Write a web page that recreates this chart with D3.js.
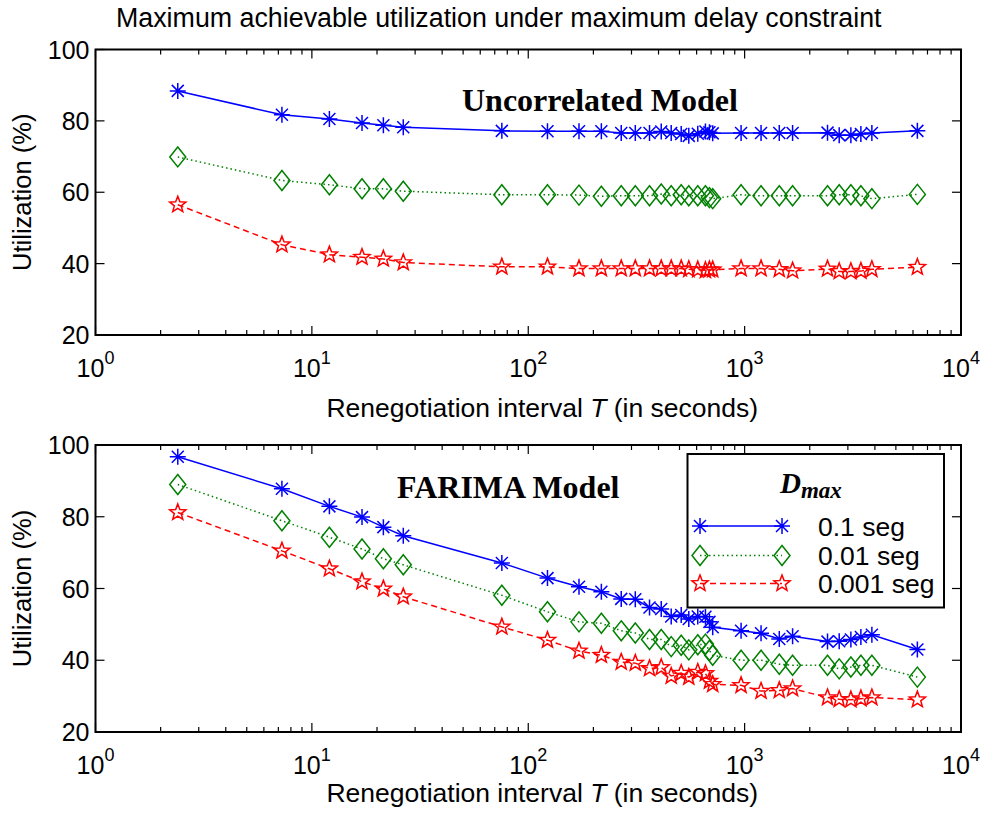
<!DOCTYPE html>
<html>
<head>
<meta charset="utf-8">
<script src="https://cdn.jsdelivr.net/npm/d3@7"></script>
<style>
  html, body { margin: 0; padding: 0; background: #fff; }
  svg { display: block; }
</style>
</head>
<body>
<script>
// ---------------- data ----------------
const T = [2.4, 7.27, 12.05, 17.05, 21.4, 26.45, 75.5, 122.7, 171.6, 217.7, 269, 312.4, 363.5, 411.7, 457.8,
           509.2, 552, 607.4, 659, 687.7, 712, 963, 1191, 1446, 1666, 2416, 2736, 3098, 3446, 3873, 6286];

const uncorr_01   = [88.4, 81.7, 80.5, 79.4, 78.8, 78.2, 77.2, 77.1, 77.1, 77.1, 76.6, 76.6, 76.6, 77.0, 76.6,
                     76.3, 75.8, 76.4, 77.0, 76.8, 76.5, 76.6, 76.6, 76.6, 76.6, 76.7, 76.0, 76.0, 76.3, 76.6, 77.2];
const uncorr_001  = [69.9, 63.3, 62.1, 61.0, 61.0, 60.3, 59.3, 59.3, 59.2, 58.9, 59.0, 59.0, 59.0, 59.5, 59.0,
                     59.3, 59.0, 59.0, 59.0, 58.5, 58.2, 59.3, 59.0, 59.0, 59.0, 59.0, 59.3, 59.3, 59.0, 58.2, 59.4];
const uncorr_0001 = [56.5, 45.3, 42.5, 41.8, 41.3, 40.3, 39.1, 39.1, 38.6, 38.6, 38.6, 38.6, 38.6, 38.6, 38.6,
                     38.6, 38.4, 38.3, 38.1, 38.3, 38.3, 38.6, 38.6, 38.4, 38.0, 38.5, 37.8, 37.8, 37.9, 38.4, 39.0];

const farima_01   = [96.7, 87.8, 82.9, 79.9, 77.1, 74.7, 67.1, 62.9, 60.5, 59.1, 57.1, 57.0, 54.7, 54.3, 52.2,
                     52.6, 51.5, 52.2, 52.1, 50.7, 49.2, 48.2, 47.5, 45.9, 46.7, 45.2, 45.3, 45.8, 46.5, 47.1, 43.0];
const farima_001  = [89.0, 78.9, 74.3, 71.0, 68.3, 66.6, 58.1, 53.5, 50.7, 50.3, 48.2, 47.6, 45.8, 45.8, 43.8,
                     44.2, 42.9, 44.3, 44.5, 42.7, 41.4, 40.0, 40.0, 38.9, 38.6, 38.6, 37.6, 38.1, 38.6, 38.6, 35.3];
const farima_0001 = [81.2, 70.5, 65.5, 61.9, 59.9, 57.7, 49.3, 45.6, 42.6, 41.4, 39.5, 39.2, 37.7, 38.0, 35.6,
                     36.4, 35.3, 36.7, 36.3, 34.2, 33.3, 33.0, 31.4, 31.6, 32.1, 29.6, 29.1, 29.0, 29.3, 29.6, 29.0];

const seriesLabels = ["0.1 seg", "0.01 seg", "0.001 seg"];
const xTickExponents = [0, 1, 2, 3, 4];
const yTickValues = [20, 40, 60, 80, 100];
const chartTitle = "Maximum achievable utilization under maximum delay constraint";
const panelTitles = ["Uncorrelated Model", "FARIMA Model"];

// ---------------- styles ----------------
const styles = [
  { color: "#0000ff", dash: null,    marker: "asterisk" },
  { color: "#008000", dash: "1.5,3", marker: "diamond" },
  { color: "#ff0000", dash: "6,4",   marker: "pentagram" }
];

const W = 987, H = 820;
const svg = d3.select("body").append("svg").attr("width", W).attr("height", H)
  .attr("font-family", "'Liberation Sans', Arial, Helvetica, sans-serif");

const X0 = 95.5, X1 = 961;

const panels = [
  { top: 49.5, bottom: 335, series: [uncorr_01, uncorr_001, uncorr_0001], title: panelTitles[0],
    titleX: 462, titleY: 110.5, tickBase: 377, labelBase: 416.5, legend: false },
  { top: 445, bottom: 732, series: [farima_01, farima_001, farima_0001], title: panelTitles[1],
    titleX: 397, titleY: 498.3, tickBase: 774, labelBase: 802, legend: true }
];

function markerPath(type) {
  if (type === "asterisk") {
    const r = 8, d = 6;
    return `M0,${-r}L0,${r}M${-r},0L${r},0M${-d},${-d}L${d},${d}M${-d},${d}L${d},${-d}`;
  }
  if (type === "diamond") {
    const hw = 8, hh = 10;
    return `M0,${-hh}L${hw},0L0,${hh}L${-hw},0Z`;
  }
  // pentagram
  const ro = 8.5, ri = 3.6;
  let p = "";
  for (let i = 0; i < 10; i++) {
    const r = i % 2 === 0 ? ro : ri;
    const a = -Math.PI / 2 + i * Math.PI / 5;
    p += (i === 0 ? "M" : "L") + (r * Math.cos(a)).toFixed(2) + "," + (r * Math.sin(a)).toFixed(2);
  }
  return p + "Z";
}

const x = d3.scaleLog().domain([1, 1e4]).range([X0, X1]);

panels.forEach(pn => {
  const y = d3.scaleLinear().domain([20, 100]).range([pn.bottom, pn.top]);
  const g = svg.append("g");

  // series
  pn.series.forEach((vals, si) => {
    const st = styles[si];
    const pts = T.map((t, i) => [t, vals[i]]);
    const line = d3.line().x(d => x(d[0])).y(d => y(d[1]));
    g.append("path").datum(pts).attr("d", line)
      .attr("fill", "none").attr("stroke", st.color).attr("stroke-width", 1.5)
      .attr("stroke-dasharray", st.dash);
    g.selectAll(null).data(pts).enter().append("path")
      .attr("transform", d => `translate(${x(d[0])},${y(d[1])})`)
      .attr("d", markerPath(st.marker))
      .attr("fill", "none").attr("stroke", st.color).attr("stroke-width", 1.5);
  });

  // frame
  g.append("rect").attr("x", X0).attr("y", pn.top).attr("width", X1 - X0).attr("height", pn.bottom - pn.top)
    .attr("fill", "none").attr("stroke", "#000").attr("stroke-width", 2);

  // x ticks (major + minor), both top and bottom, inward
  const majors = xTickExponents.map(e => Math.pow(10, e));
  const minors = [];
  for (let e = 0; e < 4; e++) for (let k = 2; k <= 9; k++) minors.push(k * Math.pow(10, e));
  majors.forEach(v => {
    g.append("line").attr("x1", x(v)).attr("x2", x(v)).attr("y1", pn.bottom).attr("y2", pn.bottom - 9)
      .attr("stroke", "#000").attr("stroke-width", 1.2);
    g.append("line").attr("x1", x(v)).attr("x2", x(v)).attr("y1", pn.top).attr("y2", pn.top + 9)
      .attr("stroke", "#000").attr("stroke-width", 1.2);
  });
  minors.forEach(v => {
    g.append("line").attr("x1", x(v)).attr("x2", x(v)).attr("y1", pn.bottom).attr("y2", pn.bottom - 5)
      .attr("stroke", "#000").attr("stroke-width", 1.2);
    g.append("line").attr("x1", x(v)).attr("x2", x(v)).attr("y1", pn.top).attr("y2", pn.top + 5)
      .attr("stroke", "#000").attr("stroke-width", 1.2);
  });
  // y ticks left and right
  yTickValues.forEach(v => {
    g.append("line").attr("x1", X0).attr("x2", X0 + 9).attr("y1", y(v)).attr("y2", y(v))
      .attr("stroke", "#000").attr("stroke-width", 1.2);
    g.append("line").attr("x1", X1).attr("x2", X1 - 9).attr("y1", y(v)).attr("y2", y(v))
      .attr("stroke", "#000").attr("stroke-width", 1.2);
    g.append("text").attr("x", X0 - 6).attr("y", y(v) + 9).attr("text-anchor", "end")
      .attr("font-size", 25).text(v);
  });
  // x tick labels 10^e
  xTickExponents.forEach(e => {
    const t = g.append("text").attr("x", x(Math.pow(10, e))).attr("y", pn.tickBase)
      .attr("text-anchor", "middle").attr("font-size", 25);
    t.append("tspan").text("10");
    t.append("tspan").attr("dy", -13).attr("font-size", 18).text(e);
  });

  // x label
  const xl = g.append("text").attr("x", (X0 + X1) / 2 + 14).attr("y", pn.labelBase)
    .attr("text-anchor", "middle").attr("font-size", 26.5);
  xl.append("tspan").text("Renegotiation interval ");
  xl.append("tspan").attr("font-style", "italic").text("T");
  xl.append("tspan").text(" (in seconds)");

  // y label
  g.append("text").attr("transform", `translate(31,${(pn.top + pn.bottom) / 2}) rotate(-90)`)
    .attr("text-anchor", "middle").attr("font-size", 25.5).text("Utilization (%)");

  // panel title
  g.append("text").attr("x", pn.titleX).attr("y", pn.titleY)
    .attr("font-family", "'Liberation Serif', 'Times New Roman', serif").attr("font-weight", "bold")
    .attr("font-size", 32).text(pn.title);

  // legend
  if (pn.legend) {
    const lg = svg.append("g");
    lg.append("rect").attr("x", 687.5).attr("y", 454).attr("width", 256.5).attr("height", 153.5)
      .attr("fill", "#fff").attr("stroke", "#000").attr("stroke-width", 2);
    const lt = lg.append("text").attr("x", 780).attr("y", 493)
      .attr("font-family", "'Liberation Serif', 'Times New Roman', serif")
      .attr("font-weight", "bold").attr("font-style", "italic").attr("font-size", 29);
    lt.append("tspan").text("D");
    lt.append("tspan").attr("dy", 5).attr("font-size", 23).text("max");
    const rowY = [526, 555.5, 583.5];
    seriesLabels.forEach((lab, i) => {
      const st = styles[i];
      lg.append("line").attr("x1", 700).attr("x2", 782).attr("y1", rowY[i]).attr("y2", rowY[i])
        .attr("stroke", st.color).attr("stroke-width", 1.5).attr("stroke-dasharray", st.dash);
      [700, 782].forEach(mx => {
        lg.append("path").attr("transform", `translate(${mx},${rowY[i]})`).attr("d", markerPath(st.marker))
          .attr("fill", "none").attr("stroke", st.color).attr("stroke-width", 1.5);
      });
      lg.append("text").attr("x", 818).attr("y", rowY[i] + 9.5).attr("font-size", 26.5).text(lab);
    });
  }
});

// main title
svg.append("text").attr("x", 116).attr("y", 27).attr("font-size", 26.8).text(chartTitle);
</script>
</body>
</html>
